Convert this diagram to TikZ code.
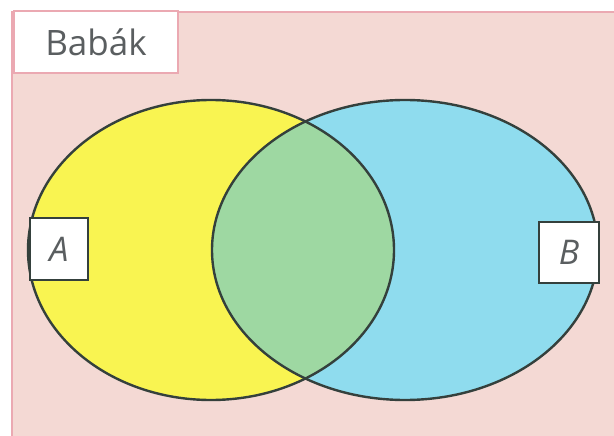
\documentclass[tikz,border=0pt]{standalone}
\usepackage{fontspec}
\setmainfont{Open Sans}
\definecolor{bgpink}{HTML}{F4D9D4}
\definecolor{framepink}{HTML}{EBA9B2}
\definecolor{yel}{HTML}{F9F451}
\definecolor{cya}{HTML}{8FDCEE}
\definecolor{grn}{HTML}{9ED8A2}
\definecolor{edge}{HTML}{34403C}
\definecolor{txt}{HTML}{5A5E60}
\tikzset{
  setline/.style={draw=edge, line width=2.4pt},
  tagbox/.style={draw=edge, line width=1.8pt, fill=white, inner sep=0pt, text=txt, font=\fontsize{34}{34}\selectfont\itshape},
}
\begin{document}
\begin{tikzpicture}[x=1pt,y=-1pt]
\useasboundingbox (0,0) rectangle (614,436);
\fill[white] (0,0) rectangle (614,436);
\draw[framepink, line width=2pt, fill=bgpink] (12,12) rectangle (620,442);
% sets
\fill[yel] (211,250) ellipse [x radius=183, y radius=150];
\fill[cya] (405,250) ellipse [x radius=193, y radius=150];
\begin{scope}
  \clip (211,250) ellipse [x radius=183, y radius=150];
  \fill[grn] (405,250) ellipse [x radius=193, y radius=150];
\end{scope}
\draw[setline] (211,250) ellipse [x radius=183, y radius=150];
\draw[setline] (405,250) ellipse [x radius=193, y radius=150];
% title
\node[draw=framepink, line width=2pt, fill=white, minimum width=164pt, minimum height=62pt, anchor=north west, inner sep=0pt] (title) at (13,10) {};
\node[text=txt, font=\fontsize{35}{35}\selectfont] (titletext) at (title.center) {Babák};
% labels
\node[tagbox, minimum width=58pt, minimum height=62pt] (a) at (59,249) {A};
\node[tagbox, minimum width=60pt, minimum height=61pt] (b) at (569,252.5) {B};
\end{tikzpicture}
\end{document}
